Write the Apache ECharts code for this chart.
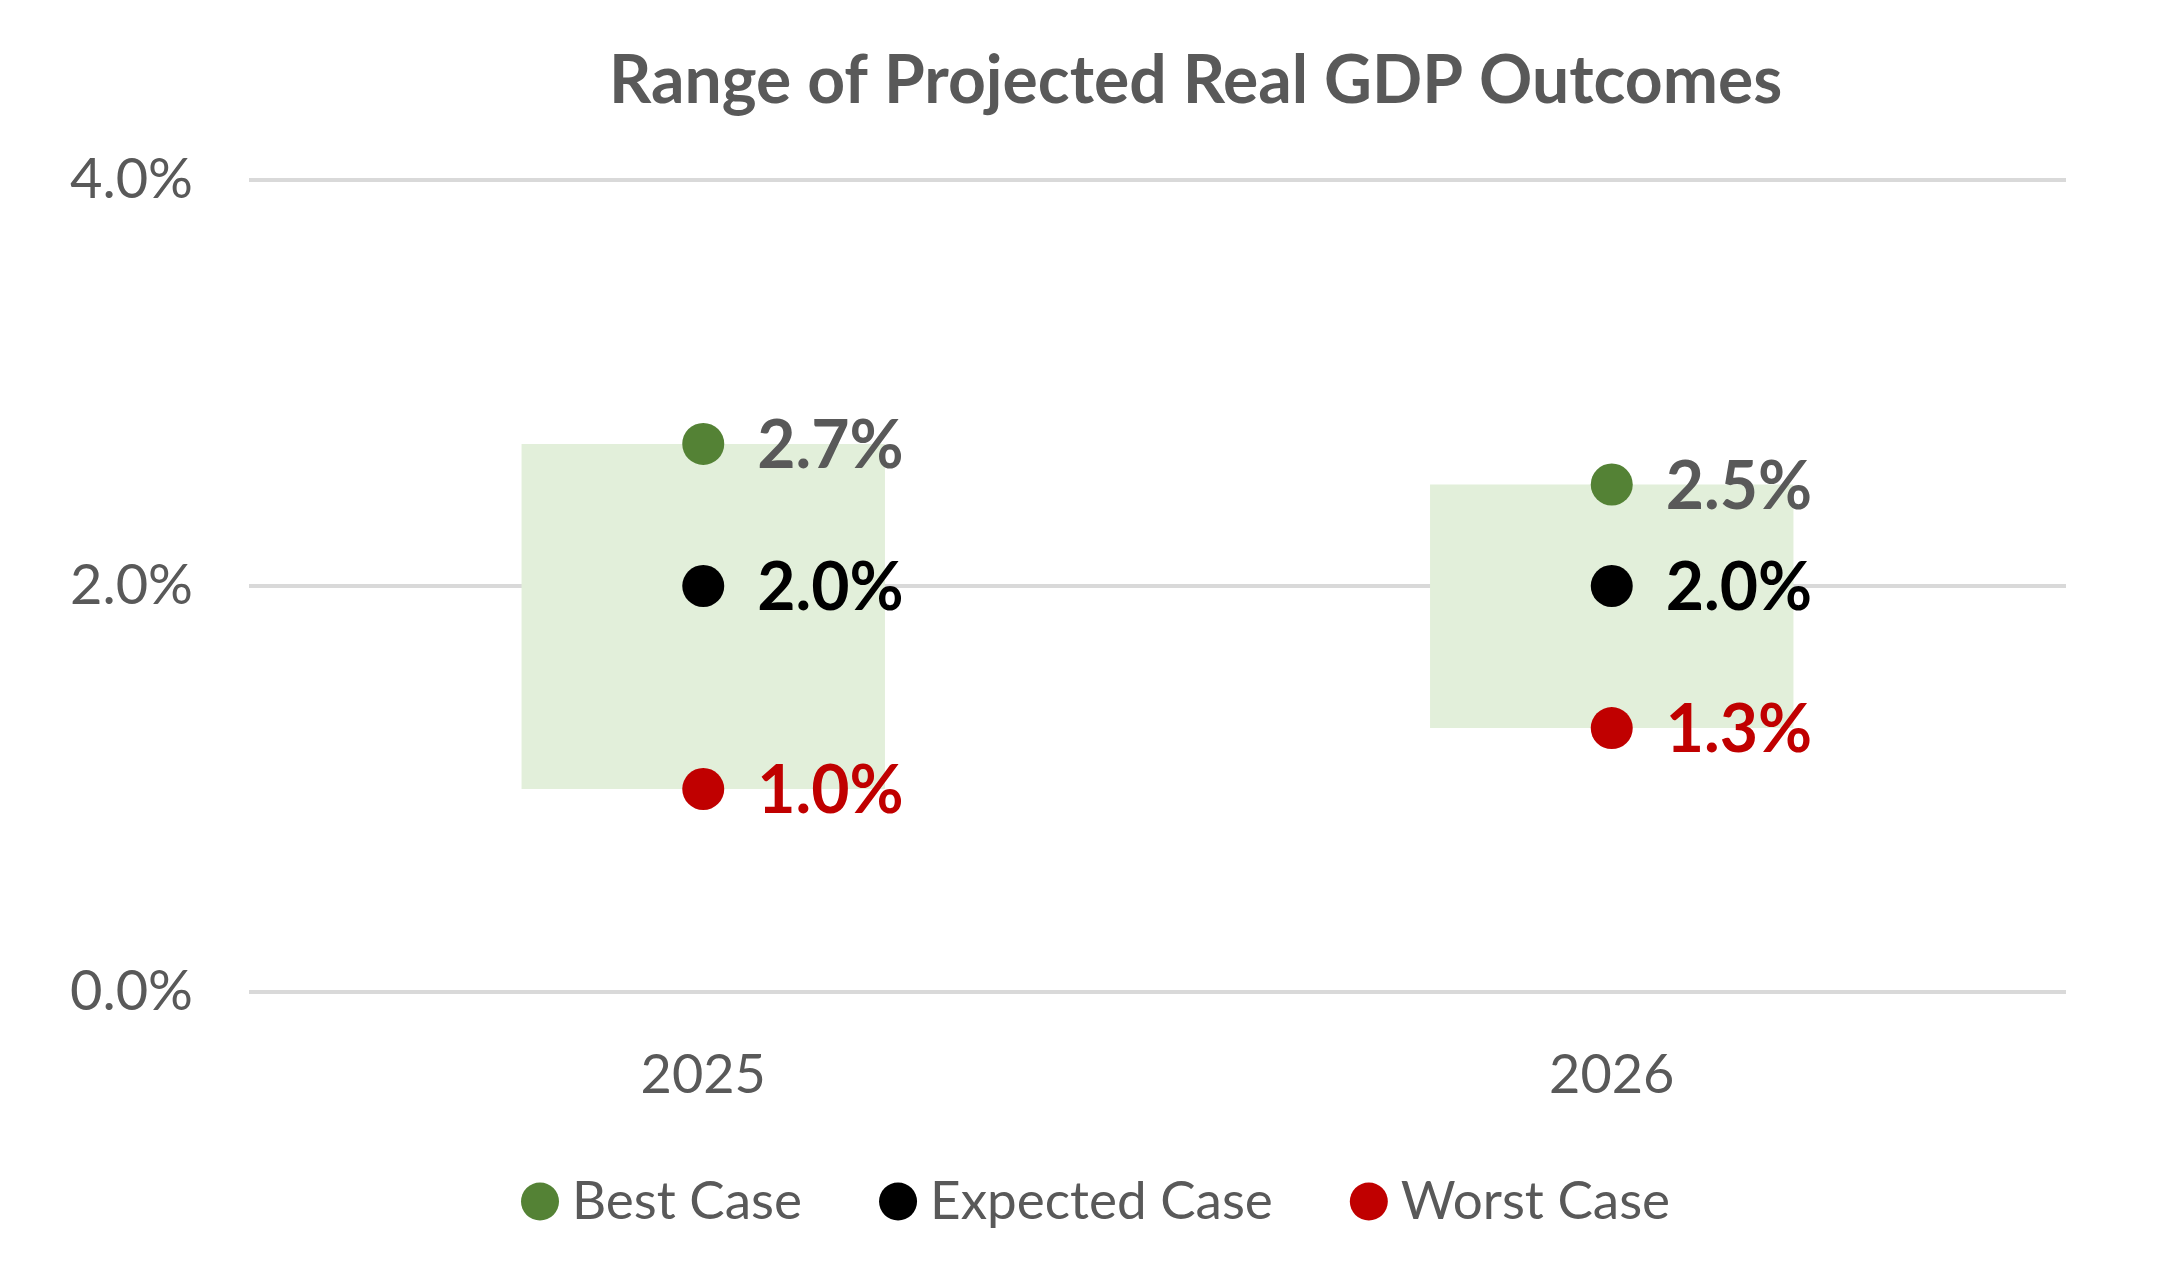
<!DOCTYPE html>
<html>
<head>
<meta charset="utf-8">
<script src="https://cdn.jsdelivr.net/npm/echarts@6/dist/echarts.min.js"></script>
<style>html,body{margin:0;padding:0;background:#fff}#c{width:2160px;height:1274px}</style>
</head>
<body>
<div id="c"></div>
<script>
const categories = ['2025', '2026'];
const bestCase = [2.7, 2.5];
const expectedCase = [2.0, 2.0];
const worstCase = [1.0, 1.3];
const yTicks = [0, 2, 4];

const FONT = 'Lato';
const chart = echarts.init(document.getElementById('c'));

function pointSeries(name, data, color, labelColor) {
  return {
    name: name,
    type: 'scatter',
    data: data,
    symbol: 'circle',
    symbolSize: 42,
    itemStyle: { color: color, opacity: 1 },
    z: 5,
    label: {
      show: true,
      position: 'right',
      distance: 33,
      offset: [0, 3],
      formatter: p => p.value.toFixed(1) + '%',
      color: labelColor,
      opacity: 1,
      fontFamily: FONT,
      fontWeight: 'bold',
      fontSize: 66
    }
  };
}

chart.setOption({
  animation: false,
  title: {
    text: 'Range of Projected Real GDP Outcomes',
    left: 604,
    top: 44,
    textStyle: { fontFamily: FONT, fontWeight: 'bold', fontSize: 66, color: '#595959' }
  },
  grid: { left: 249, right: 94, top: 180, bottom: 282, containLabel: false },
  xAxis: {
    type: 'category',
    data: categories,
    axisLine: { show: false },
    axisTick: { show: false },
    axisLabel: { color: '#595959', fontFamily: FONT, fontSize: 54, margin: 57 }
  },
  yAxis: {
    type: 'value',
    min: yTicks[0],
    max: yTicks[yTicks.length - 1],
    interval: yTicks[1] - yTicks[0],
    axisLine: { show: false },
    axisTick: { show: false },
    splitLine: { lineStyle: { color: '#D9D9D9', width: 4 } },
    axisLabel: { color: '#595959', fontFamily: FONT, fontSize: 56, margin: 56,
      formatter: v => v.toFixed(1) + '%' }
  },
  legend: {
    data: [
      { name: 'Best Case', icon: 'circle' },
      { name: 'Expected Case', icon: 'circle' },
      { name: 'Worst Case', icon: 'circle' }
    ],
    left: 516,
    top: 1170,
    itemWidth: 38,
    itemHeight: 38,
    itemGap: 77,
    textStyle: { color: '#595959', fontFamily: FONT, fontSize: 53, padding: [0, 0, 0, 8] }
  },
  series: [
    {
      name: 'Range',
      type: 'custom',
      data: categories.map((c, i) => [i, worstCase[i], bestCase[i]]),
      encode: { x: 0, y: [1, 2] },
      z: 2,
      silent: true,
      renderItem: function (params, api) {
        const lo = api.coord([api.value(0), api.value(1)]);
        const hi = api.coord([api.value(0), api.value(2)]);
        const w = api.size([1, 0])[0] * 0.4;
        return {
          type: 'rect',
          shape: { x: lo[0] - w / 2, y: hi[1], width: w, height: lo[1] - hi[1] },
          style: { fill: '#E2EFDA' }
        };
      }
    },
    pointSeries('Best Case', bestCase, '#548235', '#595959'),
    pointSeries('Expected Case', expectedCase, '#000000', '#000000'),
    pointSeries('Worst Case', worstCase, '#C00000', '#C00000')
  ]
});
</script>
</body>
</html>
